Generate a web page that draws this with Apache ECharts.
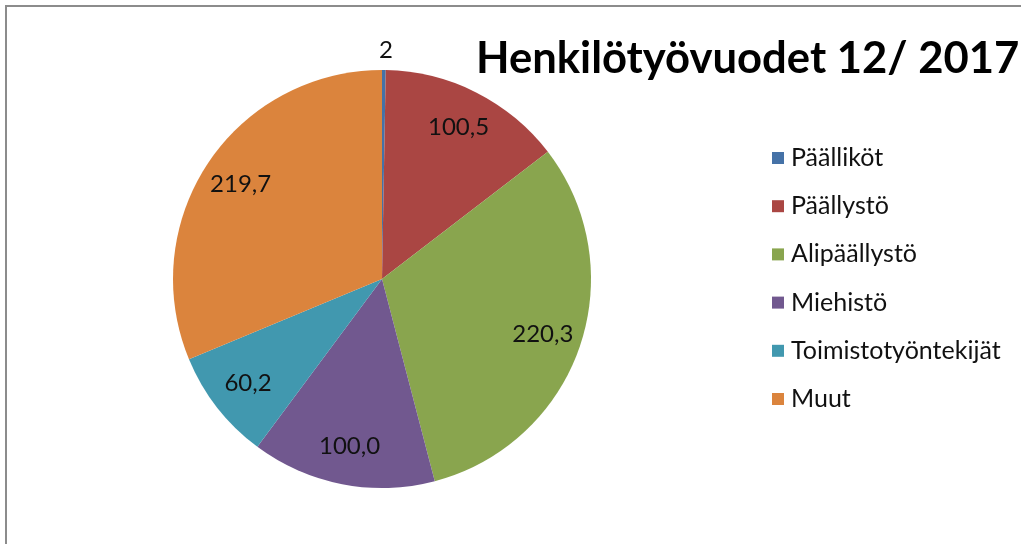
<!DOCTYPE html>
<html>
<head>
<meta charset="utf-8">
<script src="https://cdn.jsdelivr.net/npm/echarts@6/dist/echarts.min.js"></script>
<style>
html,body{margin:0;padding:0;background:#fff;}
#chart{width:1021px;height:544px;}
</style>
</head>
<body>
<div id="chart"></div>
<script>
const titleText = 'Henkilötyövuodet 12/ 2017';
const categories = ['Päälliköt', 'Päällystö', 'Alipäällystö', 'Miehistö', 'Toimistotyöntekijät', 'Muut'];
const values = [2, 100.5, 220.3, 100.0, 60.2, 219.7];
const valueLabels = ['2', '100,5', '220,3', '100,0', '60,2', '219,7'];
const colors = ['#4572A7', '#AA4643', '#89A54E', '#71588F', '#4198AF', '#DB843D'];

const FONT = 'Lato';
const center = [382, 279];

const mainData = categories.map((c, i) => ({
  name: c,
  value: values[i],
  itemStyle: { color: colors[i] },
  label: i === 0 ? { show: true } : { show: false }
}));
const ringData = categories.map((c, i) => ({
  name: c,
  value: values[i],
  label: i === 0 ? { show: false } : { show: true }
}));

const chart = echarts.init(document.getElementById('chart'), null, { renderer: 'canvas' });
chart.setOption({
  animation: false,
  backgroundColor: '#fff',
  color: colors,
  title: {
    text: titleText,
    left: 471,
    top: 32,
    textStyle: { fontFamily: FONT, fontWeight: 'bold', fontSize: 43.6, color: '#000' }
  },
  graphic: [{
    type: 'rect',
    shape: { x: 6, y: 6, width: 1200, height: 700 },
    style: { fill: 'none', stroke: '#8c8c8c', lineWidth: 2 },
    silent: true
  }],
  legend: {
    orient: 'vertical',
    left: 767,
    top: 140.5,
    data: categories,
    icon: 'rect',
    itemWidth: 12,
    itemHeight: 12,
    itemGap: 23.2,
    selectedMode: false,
    textStyle: { fontFamily: FONT, fontSize: 25, lineHeight: 25, color: '#111', padding: [0, 0, 0, 2] }
  },
  series: [
    {
      type: 'pie',
      center: center,
      radius: [0, 209],
      startAngle: 90,
      clockwise: true,
      silent: true,
      emphasis: { disabled: true },
      itemStyle: { borderWidth: 0 },
      label: {
        position: 'outside',
        formatter: p => valueLabels[p.dataIndex],
        fontFamily: FONT, fontSize: 24, color: '#111'
      },
      labelLine: { show: false, length: 20, length2: 0 },
      labelLayout: { dx: -10 },
      data: mainData
    },
    {
      type: 'pie',
      center: center,
      radius: [156, 178],
      startAngle: 90,
      clockwise: true,
      silent: true,
      emphasis: { disabled: true },
      itemStyle: { color: 'rgba(0,0,0,0)', borderWidth: 0 },
      label: {
        position: 'inside',
        formatter: p => valueLabels[p.dataIndex],
        fontFamily: FONT, fontSize: 24, color: '#111'
      },
      labelLine: { show: false },
      data: ringData
    }
  ]
});
</script>
</body>
</html>
